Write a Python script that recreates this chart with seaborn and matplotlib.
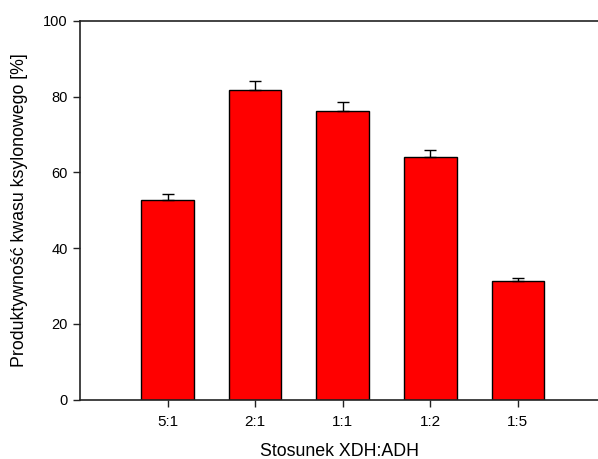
import matplotlib
matplotlib.use("Agg")
import matplotlib.pyplot as plt
import seaborn as sns
import pandas as pd
import numpy as np

categories = ["5:1", "2:1", "1:1", "1:2", "1:5"]
values = [52.6, 81.8, 76.2, 64.1, 31.2]
errors = [1.6, 2.4, 2.3, 1.8, 1.0]
y_ticks = [0, 20, 40, 60, 80, 100]

sns.set_theme(style="white")
plt.rcParams['font.family'] = ['Liberation Sans', 'DejaVu Sans']

df = pd.DataFrame({"ratio": categories, "value": values})

fig = plt.figure(figsize=(5.98, 4.59), dpi=100)
ax = fig.add_axes([80/598, 1 - 399.5/459, 1 - 80/598, (399.5 - 21)/459])

sns.barplot(data=df, x="ratio", y="value", order=categories, color="#ff0000",
            saturation=1, width=0.6, edgecolor="black", linewidth=1,
            errorbar=None, ax=ax)

xpos = np.arange(len(categories))
ax.errorbar(xpos, values, yerr=[np.zeros(len(errors)), errors], fmt="none",
            ecolor="black", elinewidth=1, capsize=4, capthick=1, zorder=1)

ax.set_xlim(-1, (598 - 168) / 87.5)
ax.set_ylim(0, 100)
ax.set_yticks(y_ticks)
ax.set_yticklabels([str(t) for t in y_ticks])

for s in ["left", "bottom", "top"]:
    ax.spines[s].set_visible(True)
    ax.spines[s].set_color("#222222")
    ax.spines[s].set_linewidth(1.2)
ax.spines["right"].set_visible(False)

ax.tick_params(axis="both", which="major", direction="out", length=5, width=1,
               color="#222222", labelcolor="black",
               bottom=True, left=True, top=False, right=False)
ax.tick_params(axis="x", pad=6, labelsize=11)
ax.tick_params(axis="y", pad=4, labelsize=10.5)

ax.set_xlabel("Stosunek XDH:ADH", fontsize=12.8, color="black", labelpad=10)
ax.set_ylabel("Produktywność kwasu ksylonowego [%]", fontsize=12.8, color="black", labelpad=11)
ax.grid(False)

fig.savefig("out.png", dpi=100)
